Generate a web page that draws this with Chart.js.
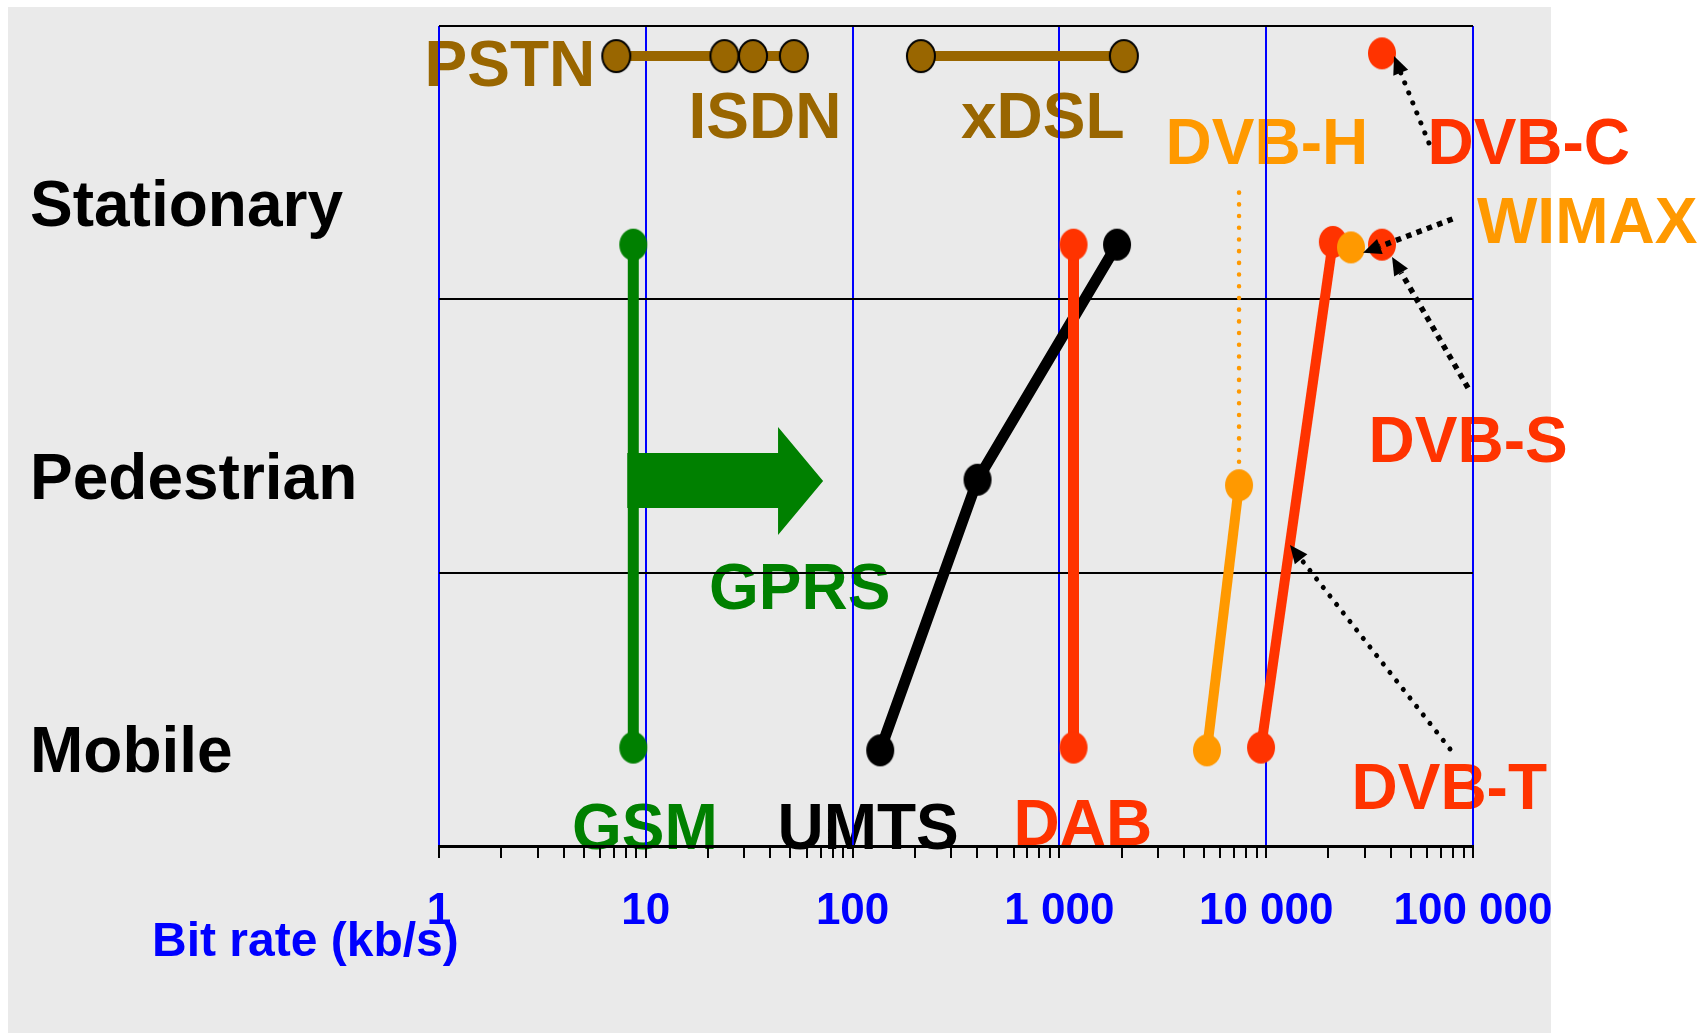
<!DOCTYPE html>
<html>
<head>
<meta charset="utf-8">
<title>Bit rate vs mobility</title>
<script src="https://cdn.jsdelivr.net/npm/chart.js@4.4.1/dist/chart.umd.min.js"></script>
<style>
  html, body { margin: 0; padding: 0; background: #fff; }
  #wrap { width: 1704px; height: 1033px; }
</style>
</head>
<body>
<div id="wrap"><canvas id="chart" width="1704" height="1033"></canvas></div>
<script>
// x = bit rate in kb/s (log), y = mobility level (0 mobile .. 3 top of stationary)
const rowNames = ['Mobile', 'Pedestrian', 'Stationary'];
const decades = [1, 10, 100, 1000, 10000, 100000];
const decadeLabels = ['1', '10', '100', '1 000', '10 000', '100 000'];

const pstnRate = [7.2, 24, 33, 52];
const pstnLevel = [2.89, 2.89, 2.89, 2.89];
const xdslRate = [214, 2050];
const xdslLevel = [2.89, 2.89];
const gsmRate = [8.7, 8.7];
const gsmLevel = [0.36, 2.2];
const umtsRate = [136, 402, 1900];
const umtsLevel = [0.35, 1.34, 2.2];
const dabRate = [1170, 1170];
const dabLevel = [0.36, 2.2];
const dvbhRate = [5170, 7390];
const dvbhLevel = [0.35, 1.32];
const dvbhDotRate = [7390, 7390];
const dvbhDotLevel = [1.32, 2.43];
const dvbtRate = [9440, 21000];
const dvbtLevel = [0.36, 2.21];
const wimaxRate = [25700];
const wimaxLevel = [2.19];
const dvbsRate = [36300];
const dvbsLevel = [2.2];
const dvbcRate = [36300];
const dvbcLevel = [2.9];

// GPRS block arrow: start, head base, tip
const gprsRate = [8.7, 43.6, 72];
const gprsLevel = 1.335;

// pointer arrows (from -> to)
const arrowFromRate = [61200, 79600, 94600, 77400];
const arrowFromLevel = [2.572, 2.294, 1.676, 0.355];
const arrowToRate = [41500, 29400, 40600, 13030];
const arrowToLevel = [2.89, 2.17, 2.155, 1.101];
const arrowKind = ['dot', 'dash', 'dash', 'dot'];

// text tags
const tagText = ['PSTN', 'ISDN', 'xDSL', 'DVB-H', 'DVB-C', 'WIMAX', 'DVB-S', 'GPRS', 'GSM', 'UMTS', 'DAB', 'DVB-T'];
const tagRate = [0.851, 16.1, 334, 3260, 60200, 104500, 31250, 20.2, 4.4, 43.3, 600, 25850];
const tagLevel = [2.78, 2.59, 2.59, 2.495, 2.495, 2.206, 1.405, 0.867, -0.011, -0.011, 0.004, 0.135];

const FONT = '"Liberation Sans", Arial, Helvetica, sans-serif';
const BROWN = '#996600', GREEN = '#008000', RED = '#ff3300', ORANGE = '#ff9900', BLUE = '#0000ff';
const tagColor = {
  'PSTN': BROWN, 'ISDN': BROWN, 'xDSL': BROWN, 'DVB-H': ORANGE, 'DVB-C': RED, 'WIMAX': ORANGE,
  'DVB-S': RED, 'GPRS': GREEN, 'GSM': GREEN, 'UMTS': '#000', 'DAB': RED, 'DVB-T': RED
};

Chart.defaults.font.family = FONT;

// slightly tall ellipse markers like the original slide
function dot(fill, stroke) {
  const rx = 14, ry = 16, c = document.createElement('canvas');
  c.width = rx * 2 + 4; c.height = ry * 2 + 4;
  const g = c.getContext('2d');
  g.beginPath();
  g.ellipse(c.width / 2, c.height / 2, rx, ry, 0, 0, Math.PI * 2);
  g.fillStyle = fill; g.fill();
  if (stroke) { g.lineWidth = 2; g.strokeStyle = stroke; g.stroke(); }
  return c;
}

const pts = (rates, levels) => rates.map((r, i) => ({ x: r, y: levels[i] }));

function series(rates, levels, color, extra) {
  return Object.assign({
    data: pts(rates, levels),
    borderColor: color,
    backgroundColor: color,
    borderWidth: 11,
    pointStyle: dot(color),
    pointRadius: 15,
    fill: false,
    tension: 0
  }, extra || {});
}

// back to front
const datasets = [
  series(dvbhDotRate, dvbhDotLevel, ORANGE, { borderWidth: 4.5, borderDash: [0.1, 11.6], borderCapStyle: 'round', pointRadius: 0 }),
  series(pstnRate, pstnLevel, BROWN, { borderWidth: 10, pointStyle: dot(BROWN, '#000') }),
  series(xdslRate, xdslLevel, BROWN, { borderWidth: 10, pointStyle: dot(BROWN, '#000') }),
  series(gsmRate, gsmLevel, GREEN),
  series(umtsRate, umtsLevel, '#000'),
  series(dabRate, dabLevel, RED),
  series(dvbhRate, dvbhLevel, ORANGE, { borderWidth: 10 }),
  series(dvbtRate, dvbtLevel, RED, { borderWidth: 10 }),
  series(wimaxRate, wimaxLevel, ORANGE),
  series(dvbcRate, dvbcLevel, RED),
  series(dvbsRate, dvbsLevel, RED)
];
datasets.forEach((d, i) => { d.order = datasets.length - i; });

function pointer(ctx, x0, y0, x1, y1, kind) {
  const ang = Math.atan2(y1 - y0, x1 - x0);
  const headLen = 18, headHalf = 8;
  const bx = x1 - Math.cos(ang) * headLen, by = y1 - Math.sin(ang) * headLen;
  ctx.save();
  ctx.strokeStyle = '#000';
  ctx.fillStyle = '#000';
  if (kind === 'dot') {
    ctx.lineWidth = 5; ctx.lineCap = 'round'; ctx.setLineDash([0.1, 10.7]);
  } else {
    ctx.lineWidth = 5.5; ctx.lineCap = 'butt'; ctx.setLineDash([5.5, 5.5]);
  }
  ctx.beginPath();
  ctx.moveTo(x0, y0);
  ctx.lineTo(bx, by);
  ctx.stroke();
  ctx.setLineDash([]);
  ctx.beginPath();
  ctx.moveTo(x1, y1);
  ctx.lineTo(bx + Math.sin(ang) * headHalf, by - Math.cos(ang) * headHalf);
  ctx.lineTo(bx - Math.sin(ang) * headHalf, by + Math.cos(ang) * headHalf);
  ctx.closePath();
  ctx.fill();
  ctx.restore();
}

const decor = {
  id: 'decor',
  beforeDraw(chart) {
    const { ctx, chartArea, scales: { x, y } } = chart;
    ctx.save();
    ctx.fillStyle = '#eaeaea';
    ctx.fillRect(8, 7, 1543, chart.height - 7);

    ctx.textAlign = 'left';
    ctx.textBaseline = 'alphabetic';
    ctx.font = 'bold 64px ' + FONT;
    tagText.forEach((t, i) => {
      ctx.fillStyle = tagColor[t];
      ctx.fillText(t, x.getPixelForValue(tagRate[i]), y.getPixelForValue(tagLevel[i]));
    });

    ctx.fillStyle = BLUE;
    ctx.font = 'bold 48px ' + FONT;
    ctx.fillText('Bit rate (kb/s)', chartArea.left - 287, chartArea.bottom + 110);
    ctx.restore();
  },
  afterDatasetsDraw(chart) {
    const { ctx, scales: { x, y } } = chart;
    // GPRS arrow
    const x0 = x.getPixelForValue(gprsRate[0]) - 6;
    const xh = x.getPixelForValue(gprsRate[1]);
    const xt = x.getPixelForValue(gprsRate[2]);
    const yc = y.getPixelForValue(gprsLevel);
    ctx.save();
    ctx.fillStyle = GREEN;
    ctx.beginPath();
    ctx.moveTo(x0, yc - 28);
    ctx.lineTo(xh, yc - 28);
    ctx.lineTo(xh, yc - 54);
    ctx.lineTo(xt, yc);
    ctx.lineTo(xh, yc + 54);
    ctx.lineTo(xh, yc + 27);
    ctx.lineTo(x0, yc + 27);
    ctx.closePath();
    ctx.fill();
    ctx.restore();

    arrowFromRate.forEach((r, i) => {
      pointer(ctx,
        x.getPixelForValue(r), y.getPixelForValue(arrowFromLevel[i]),
        x.getPixelForValue(arrowToRate[i]), y.getPixelForValue(arrowToLevel[i]),
        arrowKind[i]);
    });
  }
};

const isDecade = v => decades.indexOf(v) !== -1;

new Chart(document.getElementById('chart'), {
  type: 'line',
  data: { datasets },
  plugins: [decor],
  options: {
    responsive: false,
    animation: false,
    devicePixelRatio: 1,
    events: [],
    layout: { padding: { left: 30, right: 231, top: 26, bottom: 0 } },
    plugins: { legend: { display: false }, tooltip: { enabled: false } },
    scales: {
      x: {
        type: 'logarithmic',
        min: 1,
        max: 100000,
        afterBuildTicks: axis => {
          const vals = [];
          decades.forEach(d => {
            if (d === 100000) { vals.push(d); return; }
            for (let m = 1; m <= 9; m++) vals.push(d * m);
          });
          axis.ticks = vals.map(v => ({ value: v, major: isDecade(v) }));
        },
        afterFit: scale => { scale.height = 187; },
        grid: {
          color: c => (c.tick && isDecade(c.tick.value)) ? BLUE : 'rgba(0,0,0,0)',
          lineWidth: 2,
          tickColor: '#000',
          tickWidth: 2,
          tickLength: 12
        },
        border: { color: '#000', width: 3 },
        ticks: {
          autoSkip: false,
          maxRotation: 0,
          padding: 27,
          color: BLUE,
          font: { size: 44, weight: 'bold' },
          callback: v => {
            const i = decades.indexOf(v);
            return i === -1 ? '' : decadeLabels[i];
          }
        }
      },
      y: {
        type: 'linear',
        min: 0,
        max: 3,
        position: 'left',
        afterBuildTicks: axis => { axis.ticks = [1, 2, 3].map(v => ({ value: v })); },
        afterFit: scale => { scale.width = 0; scale.paddingTop = 0; scale.paddingBottom = 0; },
        grid: { color: '#000', lineWidth: 2, drawTicks: false },
        border: { display: false },
        ticks: { display: false }
      },
      rows: {
        type: 'linear',
        min: 0,
        max: 3,
        position: 'left',
        afterBuildTicks: axis => { axis.ticks = rowNames.map((n, i) => ({ value: i + 0.334 })); },
        afterFit: scale => { scale.width = 409; scale.paddingTop = 0; scale.paddingBottom = 0; },
        grid: { display: false, drawTicks: false },
        border: { display: false },
        ticks: {
          crossAlign: 'far',
          padding: 0,
          color: '#000',
          font: { size: 64, weight: 'bold', lineHeight: 0.8 },
          callback: (v, i) => rowNames[i]
        }
      }
    }
  }
});
</script>
</body>
</html>
